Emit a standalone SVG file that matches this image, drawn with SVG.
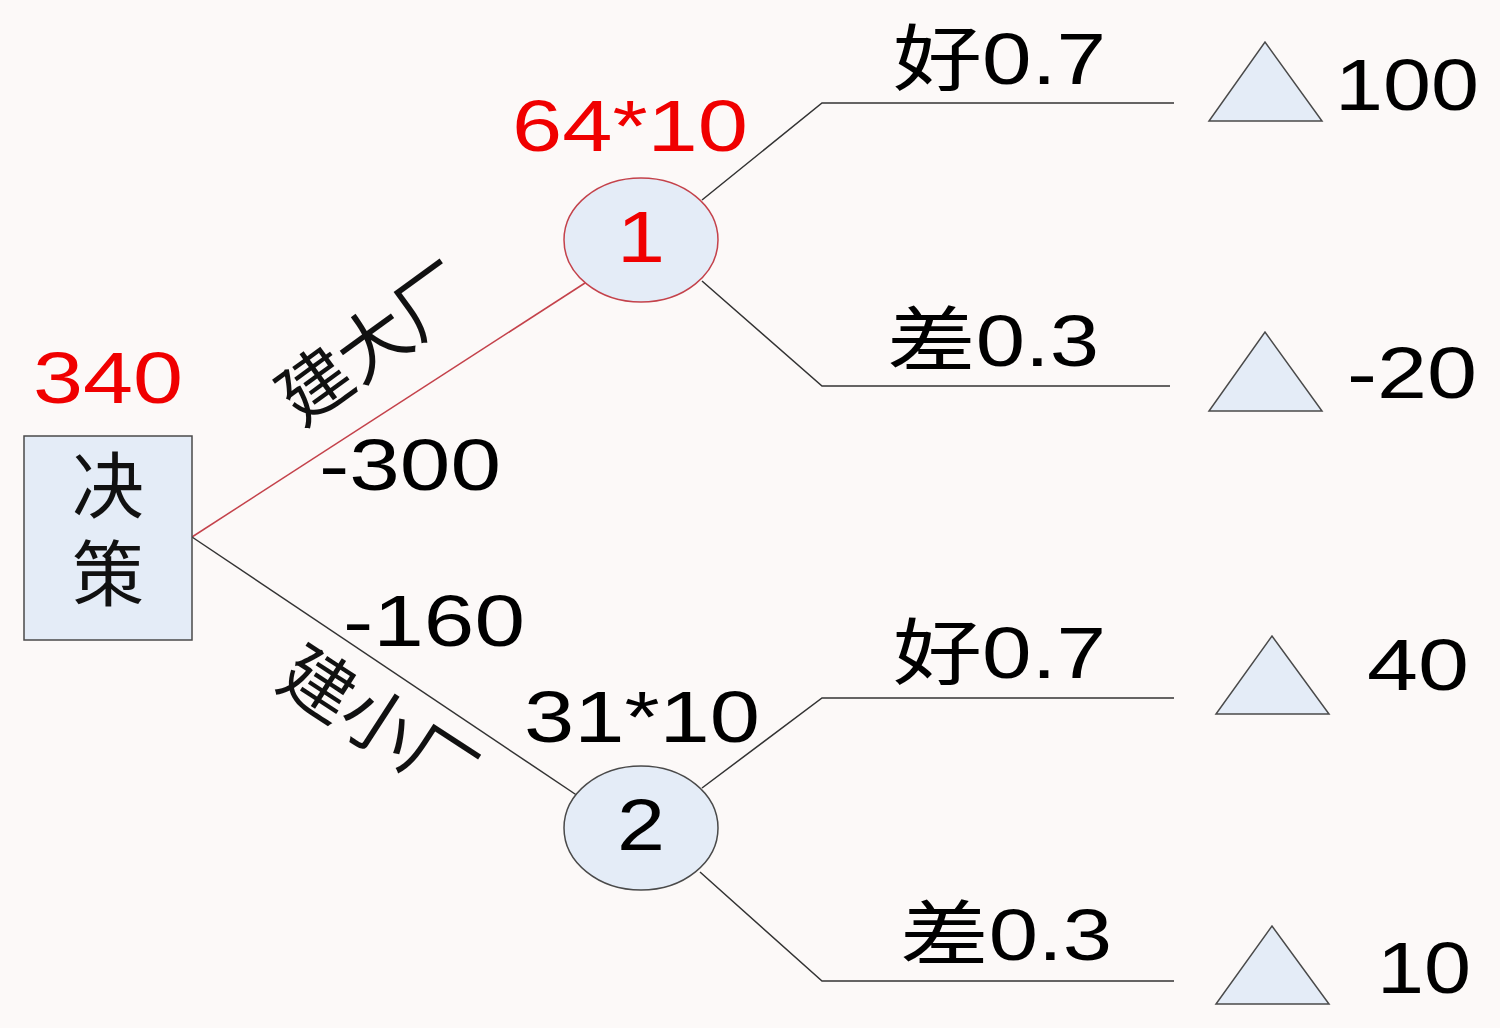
<svg xmlns="http://www.w3.org/2000/svg" width="1500" height="1028" viewBox="0 0 1500 1028">
<style>
.t{font-family:"Liberation Sans","Noto Sans CJK SC",Arial,sans-serif;font-size:72px;fill:#000}
.cj{font-family:"Noto Sans CJK SC","Liberation Sans",sans-serif;font-size:72px;fill:#111}
.red{fill:#f00000}
.shape{fill:#e4ecf7;stroke:#4a4a4a;stroke-width:1.5}
.conn{fill:none;stroke:#333;stroke-width:1.5}
</style>
<rect width="1500" height="1028" fill="#fcf9f8"/>
<g id="connectors">
<path d="M192,537 L585,283" fill="none" stroke="#c4424b" stroke-width="1.5"/>
<path class="conn" d="M192,537 L578,796"/>
<path class="conn" d="M702,200 L822,103 L1174,103"/>
<path class="conn" d="M702,281 L822,386 L1170,386"/>
<path class="conn" d="M702,788 L822,698 L1174,698"/>
<path class="conn" d="M700,872 L822,981 L1174,981"/>
</g>
<g id="decision">
<rect class="shape" x="24" y="436" width="168" height="204"/>
<text class="cj" style="writing-mode:vertical-rl" letter-spacing="16" x="108" y="449">决策</text>
<text class="t red" x="33" y="403" textLength="150" lengthAdjust="spacingAndGlyphs">340</text>
</g>
<g id="label-big">
<text class="cj" font-size="74" transform="translate(374,344) rotate(-36)" text-anchor="middle" y="25">建大厂</text>
<text class="t" x="319" y="490" textLength="182" lengthAdjust="spacingAndGlyphs">-300</text>
</g>
<g id="label-small">
<text class="cj" font-size="74" transform="translate(378,724) rotate(33)" text-anchor="middle" y="25">建小厂</text>
<text class="t" x="343" y="646" textLength="182" lengthAdjust="spacingAndGlyphs">-160</text>
</g>
<g id="node1">
<ellipse cx="641" cy="240" rx="77" ry="62" fill="#e4ecf7" stroke="#c4424b" stroke-width="1.5"/>
<text class="t red" x="617" y="262" textLength="48" lengthAdjust="spacingAndGlyphs">1</text>
<text class="t red" x="512" y="151" textLength="236" lengthAdjust="spacingAndGlyphs">64*10</text>
</g>
<g id="node2">
<ellipse class="shape" cx="641" cy="828" rx="77" ry="62"/>
<text class="t" x="617" y="850" textLength="48" lengthAdjust="spacingAndGlyphs">2</text>
<text class="t" x="524" y="742" textLength="236" lengthAdjust="spacingAndGlyphs">31*10</text>
</g>
<g id="branch-labels">
<text class="t" x="893" y="84" textLength="213" lengthAdjust="spacingAndGlyphs">好0.7</text>
<text class="t" x="887" y="366" textLength="212" lengthAdjust="spacingAndGlyphs">差0.3</text>
<text class="t" x="893" y="678" textLength="213" lengthAdjust="spacingAndGlyphs">好0.7</text>
<text class="t" x="900" y="960" textLength="212" lengthAdjust="spacingAndGlyphs">差0.3</text>
</g>
<g id="leaf1">
<polygon class="shape" points="1209,121 1322,121 1265,42"/>
<text class="t" x="1335" y="110" textLength="144" lengthAdjust="spacingAndGlyphs">100</text>
</g>
<g id="leaf2">
<polygon class="shape" points="1209,411 1322,411 1265,332"/>
<text class="t" x="1347" y="398" textLength="130" lengthAdjust="spacingAndGlyphs">-20</text>
</g>
<g id="leaf3">
<polygon class="shape" points="1216,714 1329,714 1272,636"/>
<text class="t" x="1367" y="690" textLength="102" lengthAdjust="spacingAndGlyphs">40</text>
</g>
<g id="leaf4">
<polygon class="shape" points="1216,1004 1329,1004 1272,926"/>
<text class="t" x="1377" y="993" textLength="94" lengthAdjust="spacingAndGlyphs">10</text>
</g>
</svg>
